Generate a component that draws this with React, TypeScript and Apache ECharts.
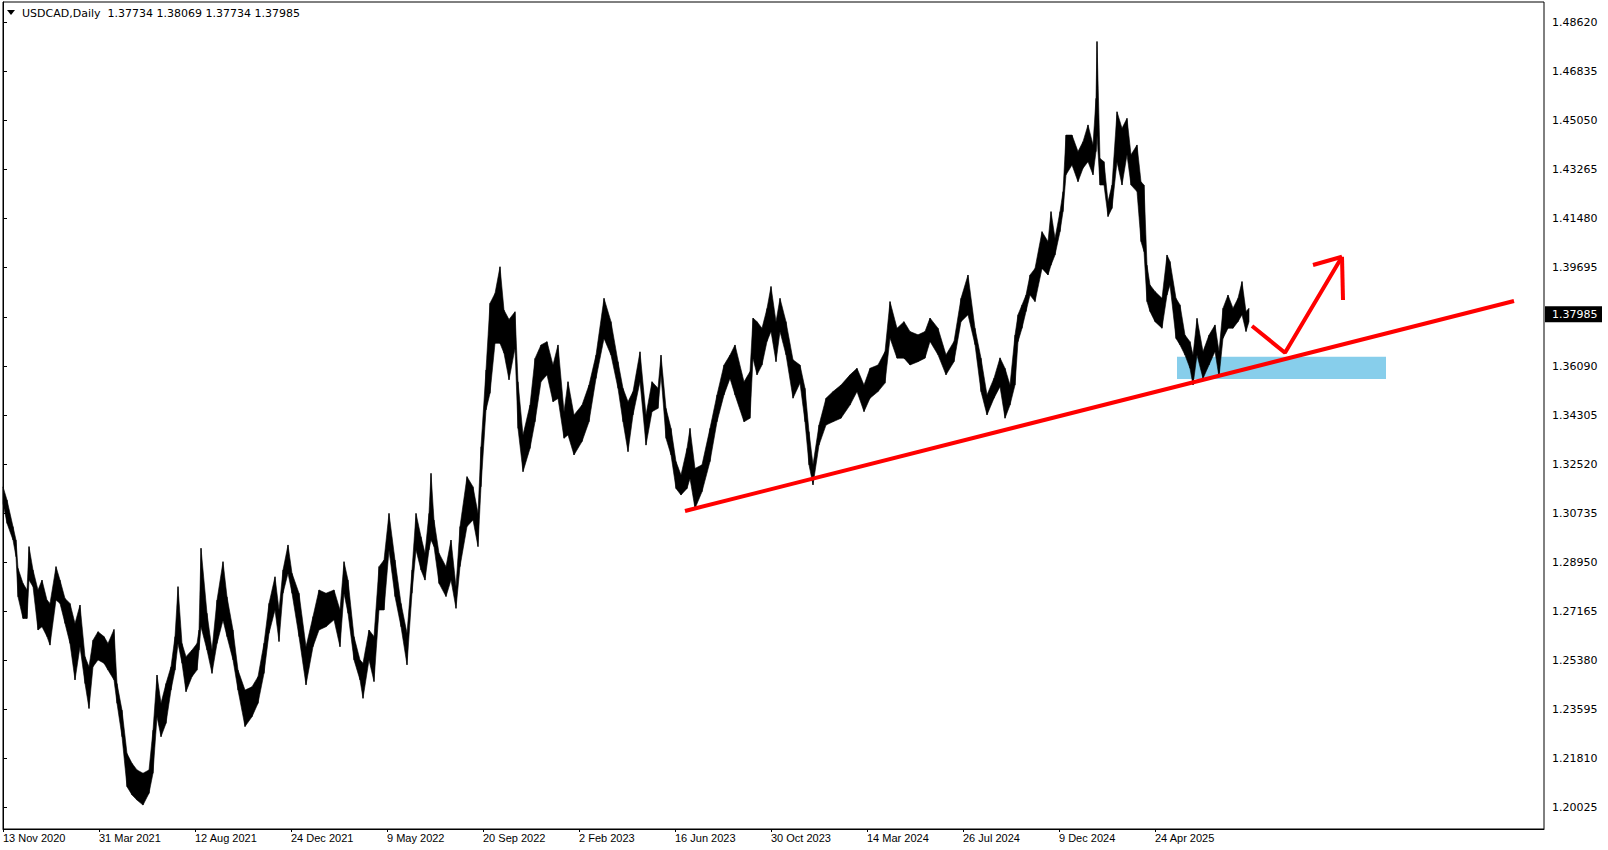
import React, { useEffect, useRef } from "react";
import * as echarts from "echarts";

// ---- axis labels ----
const dateLabels = [
  "13 Nov 2020", "31 Mar 2021", "12 Aug 2021", "24 Dec 2021", "9 May 2022",
  "20 Sep 2022", "2 Feb 2023", "16 Jun 2023", "30 Oct 2023", "14 Mar 2024",
  "26 Jul 2024", "9 Dec 2024", "24 Apr 2025",
];
const labelBars = [0, 96, 192, 288, 384, 480, 576, 672, 768, 864, 960, 1056, 1152];
const priceTicks = [
  1.20025, 1.2181, 1.23595, 1.2538, 1.27165, 1.2895, 1.30735, 1.3252, 1.34305,
  1.3609, 1.37895, 1.39695, 1.4148, 1.43265, 1.4505, 1.46835, 1.4862,
];

// ---- USDCAD daily price envelope (bar index from 13 Nov 2020, high, low) ----
const barIdx = [
  0, 4, 10, 13, 15, 20, 24, 26, 30, 35, 39, 44, 47, 53, 57, 62, 67, 72, 77, 82,
  86, 90, 95, 101, 105, 111, 114, 119, 124, 129, 134, 140, 146, 150, 154, 158, 163, 168, 172, 175,
  179, 183, 189, 194, 196, 198, 204, 209, 214, 220, 224, 230, 235, 242, 249, 255, 261, 266, 272, 276,
  280, 285, 289, 296, 303, 310, 316, 323, 331, 337, 341, 345, 351, 357, 360, 366, 371, 376, 381, 386,
  392, 398, 404, 409, 413, 418, 422, 426, 428, 431, 436, 443, 448, 453, 457, 464, 470, 475, 478, 483,
  487, 492, 497, 501, 506, 512, 515, 520, 527, 532, 538, 544, 550, 555, 561, 565, 571, 579, 586, 593,
  601, 608, 615, 620, 625, 630, 637, 643, 649, 655, 658, 663, 668, 673, 678, 684, 687, 692, 699, 707,
  714, 721, 727, 732, 741, 747, 750, 754, 759, 764, 768, 773, 777, 783, 790, 797, 802, 806, 810, 816,
  823, 830, 838, 847, 854, 861, 867, 875, 882, 887, 894, 901, 907, 915, 922, 927, 935, 943, 951, 958,
  965, 972, 978, 984, 991, 997, 1002, 1007, 1012, 1015, 1019, 1023, 1027, 1032, 1039, 1045, 1048, 1052, 1057, 1060,
  1063, 1069, 1075, 1080, 1085, 1090, 1093, 1094, 1097, 1101, 1105, 1109, 1114, 1119, 1124, 1128, 1134, 1138, 1141, 1144,
  1147, 1152, 1159, 1164, 1167, 1173, 1177, 1182, 1187, 1190, 1194, 1200, 1206, 1212, 1216, 1220, 1225, 1230, 1235, 1239,
  1243, 1246,
];
const highs = [
  1.3170, 1.3122, 1.3025, 1.2976, 1.2873, 1.2818, 1.2794, 1.2952, 1.2867, 1.2794, 1.2830, 1.2757, 1.2745, 1.2879, 1.2830, 1.2763, 1.2745, 1.2672, 1.2739, 1.2551,
  1.2514, 1.2611, 1.2642, 1.2624, 1.2599, 1.2650, 1.2453, 1.2356, 1.2198, 1.2162, 1.2138, 1.2126, 1.2138, 1.2283, 1.2484, 1.2381, 1.2453, 1.2514, 1.2624, 1.2806,
  1.2599, 1.2551, 1.2575, 1.2599, 1.2648, 1.2946, 1.2709, 1.2575, 1.2757, 1.2897, 1.2769, 1.2648, 1.2502, 1.2429, 1.2441, 1.2478, 1.2600, 1.2745, 1.2842, 1.2721,
  1.2867, 1.2958, 1.2855, 1.2782, 1.2587, 1.2697, 1.2794, 1.2782, 1.2794, 1.2721, 1.2897, 1.2830, 1.2624, 1.2539, 1.2527, 1.2648, 1.2624, 1.2879, 1.2903, 1.3073,
  1.2903, 1.2745, 1.2636, 1.2867, 1.3073, 1.2988, 1.2928, 1.3073, 1.3219, 1.3049, 1.2928, 1.2879, 1.2976, 1.2806, 1.3025, 1.3207, 1.3170, 1.3073, 1.3316, 1.3596,
  1.3839, 1.3875, 1.3972, 1.3814, 1.3780, 1.3808, 1.3553, 1.3359, 1.3468, 1.3638, 1.3687, 1.3699, 1.3614, 1.3687, 1.3444, 1.3553, 1.3432, 1.3468, 1.3541, 1.3650,
  1.3857, 1.3772, 1.3626, 1.3529, 1.3480, 1.3517, 1.3662, 1.3432, 1.3553, 1.3529, 1.3650, 1.3456, 1.3383, 1.3262, 1.3213, 1.3310, 1.3383, 1.3237, 1.3250, 1.3383,
  1.3505, 1.3614, 1.3650, 1.3687, 1.3553, 1.3590, 1.3785, 1.3772, 1.3748, 1.3820, 1.3900, 1.3772, 1.3857, 1.3772, 1.3633, 1.3614, 1.3529, 1.3371, 1.3250, 1.3395,
  1.3493, 1.3517, 1.3541, 1.3578, 1.3602, 1.3541, 1.3602, 1.3614, 1.3663, 1.3845, 1.3748, 1.3772, 1.3736, 1.3724, 1.3736, 1.3785, 1.3748, 1.3651, 1.3700, 1.3857,
  1.3942, 1.3748, 1.3639, 1.3505, 1.3566, 1.3640, 1.3602, 1.3541, 1.3723, 1.3797, 1.3833, 1.3869, 1.3942, 1.3966, 1.4100, 1.4064, 1.4173, 1.4076, 1.4173, 1.4246,
  1.4452, 1.4452, 1.4392, 1.4428, 1.4489, 1.4416, 1.4586, 1.4793, 1.4367, 1.4355, 1.4209, 1.4270, 1.4537, 1.4477, 1.4513, 1.4380, 1.4416, 1.4282, 1.4270, 1.3978,
  1.3906, 1.3882, 1.3857, 1.4015, 1.3991, 1.3857, 1.3833, 1.3723, 1.3699, 1.3650, 1.3784, 1.3663, 1.3723, 1.3760, 1.3663, 1.3821, 1.3869, 1.3821, 1.3857, 1.3918,
  1.3809, 1.3821,
];
const lows = [
  1.3110, 1.3037, 1.2976, 1.2915, 1.2769, 1.2690, 1.2690, 1.2830, 1.2806, 1.2648, 1.2660, 1.2624, 1.2593, 1.2757, 1.2745, 1.2672, 1.2599, 1.2466, 1.2587, 1.2453,
  1.2362, 1.2514, 1.2539, 1.2527, 1.2502, 1.2466, 1.2381, 1.2259, 1.2077, 1.2047, 1.2028, 1.2010, 1.2053, 1.2126, 1.2332, 1.2259, 1.2308, 1.2429, 1.2502, 1.2599,
  1.2527, 1.2423, 1.2478, 1.2502, 1.2575, 1.2660, 1.2575, 1.2490, 1.2599, 1.2684, 1.2624, 1.2539, 1.2429, 1.2296, 1.2332, 1.2381, 1.2490, 1.2636, 1.2721, 1.2606,
  1.2782, 1.2855, 1.2782, 1.2624, 1.2448, 1.2587, 1.2648, 1.2660, 1.2685, 1.2587, 1.2782, 1.2709, 1.2539, 1.2466, 1.2399, 1.2539, 1.2460, 1.2721, 1.2721, 1.2940,
  1.2770, 1.2660, 1.2521, 1.2782, 1.2940, 1.2867, 1.2830, 1.2940, 1.2976, 1.2952, 1.2818, 1.2770, 1.2830, 1.2727, 1.2879, 1.3025, 1.3049, 1.2952, 1.3170, 1.3450,
  1.3511, 1.3693, 1.3693, 1.3657, 1.3560, 1.3675, 1.3383, 1.3225, 1.3310, 1.3407, 1.3553, 1.3578, 1.3480, 1.3492, 1.3347, 1.3359, 1.3286, 1.3335, 1.3407, 1.3565,
  1.3711, 1.3650, 1.3529, 1.3407, 1.3298, 1.3432, 1.3553, 1.3322, 1.3444, 1.3456, 1.3578, 1.3347, 1.3286, 1.3164, 1.3140, 1.3164, 1.3200, 1.3091, 1.3152, 1.3262,
  1.3407, 1.3505, 1.3565, 1.3505, 1.3407, 1.3420, 1.3639, 1.3578, 1.3614, 1.3700, 1.3736, 1.3626, 1.3736, 1.3651, 1.3493, 1.3548, 1.3407, 1.3250, 1.3177, 1.3322,
  1.3395, 1.3407, 1.3420, 1.3468, 1.3517, 1.3444, 1.3493, 1.3517, 1.3548, 1.3712, 1.3639, 1.3639, 1.3614, 1.3626, 1.3639, 1.3700, 1.3651, 1.3578, 1.3626, 1.3772,
  1.3797, 1.3688, 1.3517, 1.3432, 1.3493, 1.3535, 1.3420, 1.3468, 1.3541, 1.3699, 1.3748, 1.3809, 1.3869, 1.3845, 1.3966, 1.3942, 1.3978, 1.4015, 1.4100, 1.4173,
  1.4307, 1.4343, 1.4282, 1.4331, 1.4355, 1.4307, 1.4392, 1.4452, 1.4270, 1.4270, 1.4155, 1.4185, 1.4355, 1.4270, 1.4380, 1.4270, 1.4246, 1.4064, 1.4027, 1.3845,
  1.3809, 1.3772, 1.3748, 1.3869, 1.3906, 1.3711, 1.3687, 1.3650, 1.3602, 1.3541, 1.3650, 1.3565, 1.3614, 1.3663, 1.3571, 1.3711, 1.3748, 1.3748, 1.3772, 1.3797,
  1.3736, 1.3772,
];
const lastClose = 1.37985;
const headerText = "USDCAD,Daily  1.37734 1.38069 1.37734 1.37985";

// ---- drawn annotations (bar index, price) ----
const trendLine = [[682, 1.30818], [1511, 1.38472]];
const supportZone = [1174, 1.36442, 1383, 1.35629];
const arrowPath = [[1249, 1.37561], [1282, 1.36588], [1339, 1.40087]];
const arrowHeadA = [[1310, 1.39785], [1339, 1.40087]];
const arrowHeadB = [[1339, 1.40087], [1340, 1.38509]];

export default function App() {
  const ref = useRef<HTMLDivElement>(null);

  useEffect(() => {
    const chart = echarts.init(ref.current!, null, { renderer: "svg" });

    const bandData: number[][] = [];
    for (let i = 0; i < barIdx.length - 1; i++) {
      bandData.push([barIdx[i], highs[i], lows[i], barIdx[i + 1], highs[i + 1], lows[i + 1]]);
    }

    const redLine = (data: number[][]) => ({
      type: "line",
      data,
      symbol: "none",
      silent: true,
      z: 5,
      lineStyle: { color: "#ff0000", width: 4, cap: "butt" },
    });

    const headerGraphics = [
      {
        type: "polygon",
        z: 100,
        shape: { points: [[7, 10], [15, 10], [11, 15]] },
        style: { fill: "#000" },
      },
      {
        type: "text",
        z: 100,
        x: 22,
        y: 13,
        style: {
          text: headerText,
          fill: "#000",
          font: '11px "DejaVu Sans"',
          verticalAlign: "middle",
        },
      },
    ];

    chart.setOption({
      animation: false,
      backgroundColor: "#fff",
      grid: {
        left: 3,
        right: 64,
        top: 2,
        bottom: 21,
        show: true,
        borderColor: "#000",
        borderWidth: 1,
        containLabel: false,
      },
      xAxis: {
        type: "value",
        min: 0,
        max: 1541,
        splitLine: { show: false },
        axisLine: { show: true, lineStyle: { color: "#000", width: 1 } },
        axisTick: { show: true, customValues: labelBars, length: 3, lineStyle: { color: "#000" } },
        axisLabel: {
          customValues: labelBars,
          formatter: (v: number) => {
            const k = labelBars.indexOf(Math.round(v));
            return k >= 0 ? dateLabels[k] : "";
          },
          align: "left",
          margin: 3,
          color: "#000",
          fontFamily: "Liberation Sans",
          fontSize: 11,
        },
      },
      yAxis: {
        type: "value",
        position: "right",
        min: 1.19227,
        max: 1.49371,
        splitLine: { show: false },
        axisLine: { show: true, lineStyle: { color: "#000", width: 1 } },
        axisTick: { show: true, customValues: priceTicks, length: 4, lineStyle: { color: "#000" } },
        axisLabel: {
          customValues: priceTicks,
          formatter: (v: number) => v.toFixed(5),
          margin: 8,
          color: "#000",
          fontFamily: "DejaVu Sans",
          fontSize: 11,
        },
      },
      series: [
        {
          type: "custom",
          z: 1,
          silent: true,
          data: [supportZone],
          encode: { x: [0, 2], y: [1, 3] },
          renderItem: (_p: any, api: any) => {
            const a = api.coord([api.value(0), api.value(1)]);
            const b = api.coord([api.value(2), api.value(3)]);
            return {
              type: "rect",
              shape: { x: a[0], y: a[1], width: b[0] - a[0], height: b[1] - a[1] },
              style: { fill: "#87ceeb" },
            };
          },
        },
        {
          type: "custom",
          z: 2,
          silent: true,
          data: bandData,
          encode: { x: [0, 3], y: [1, 2, 4, 5] },
          renderItem: (_p: any, api: any) => {
            const a = api.coord([api.value(0), api.value(1)]);
            const b = api.coord([api.value(3), api.value(4)]);
            const c = api.coord([api.value(3), api.value(5)]);
            const d = api.coord([api.value(0), api.value(2)]);
            return {
              type: "polygon",
              shape: { points: [a, b, c, d] },
              style: { fill: "#000", stroke: "#000", lineWidth: 0.6 },
            };
          },
        },
        redLine(trendLine),
        redLine(arrowPath),
        redLine(arrowHeadA),
        redLine(arrowHeadB),
      ],
      graphic: headerGraphics,
    });

    const py = chart.convertToPixel({ yAxisIndex: 0 }, lastClose) as number;
    chart.setOption({
      graphic: [
        ...headerGraphics,
        {
          type: "rect",
          z: 100,
          shape: { x: 1545, y: py - 8, width: 57, height: 16 },
          style: { fill: "#000" },
        },
        {
          type: "text",
          z: 101,
          x: 1552,
          y: py,
          style: {
            text: lastClose.toFixed(5),
            fill: "#fff",
            font: '11px "DejaVu Sans"',
            verticalAlign: "middle",
          },
        },
      ],
    });

    return () => chart.dispose();
  }, []);

  return (
    <div
      ref={ref}
      style={{ position: "fixed", left: 0, top: 0, width: 1608, height: 850, background: "#fff" }}
    />
  );
}
